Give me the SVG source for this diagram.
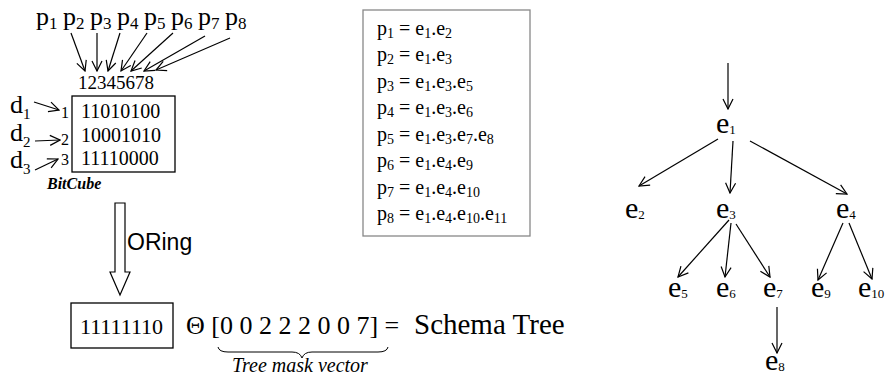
<svg xmlns="http://www.w3.org/2000/svg" width="889" height="380" viewBox="0 0 889 380">
<defs>
<marker id="ah" markerWidth="12" markerHeight="12" refX="11" refY="6" orient="auto" markerUnits="userSpaceOnUse">
<polyline points="1,1 11,6 1,11" fill="none" stroke="#000" stroke-width="1.2"/>
</marker>
</defs>
<style>
.t{font-family:"Liberation Serif","Times New Roman",serif;fill:#000}
.s{font-family:"Liberation Sans",Arial,sans-serif;fill:#000}
.ln{stroke:#000;stroke-width:1.2;fill:none;marker-end:url(#ah)}
.bx{fill:#fff;stroke:#000;stroke-width:1.3}
</style>
<rect width="889" height="380" fill="#fff"/>

<g id="p-labels">
<text class="t" font-size="26" x="36" y="25">p<tspan font-size="17" dy="4">1</tspan></text>
<text class="t" font-size="26" x="63" y="25">p<tspan font-size="17" dy="4">2</tspan></text>
<text class="t" font-size="26" x="90" y="25">p<tspan font-size="17" dy="4">3</tspan></text>
<text class="t" font-size="26" x="117" y="25">p<tspan font-size="17" dy="4">4</tspan></text>
<text class="t" font-size="26" x="144" y="25">p<tspan font-size="17" dy="4">5</tspan></text>
<text class="t" font-size="26" x="171" y="25">p<tspan font-size="17" dy="4">6</tspan></text>
<text class="t" font-size="26" x="198" y="25">p<tspan font-size="17" dy="4">7</tspan></text>
<text class="t" font-size="26" x="225" y="25">p<tspan font-size="17" dy="4">8</tspan></text>
</g>

<g id="bitcube">
<text class="t" x="78" y="89" font-size="19">12345678</text>
<rect class="bx" x="72" y="96" width="103" height="76"/>
<text class="t" x="81" y="118" font-size="20">11010100</text>
<text class="t" x="81" y="142" font-size="20">10001010</text>
<text class="t" x="81" y="165" font-size="20">11110000</text>
<text class="t" x="61" y="118" font-size="16">1</text>
<text class="t" x="61" y="145" font-size="16">2</text>
<text class="t" x="61" y="165" font-size="16">3</text>
<text class="t" x="10" y="113" font-size="26">d<tspan font-size="15" dy="6">1</tspan></text>
<text class="t" x="10" y="141" font-size="26">d<tspan font-size="15" dy="6">2</tspan></text>
<text class="t" x="10" y="168" font-size="26">d<tspan font-size="15" dy="6">3</tspan></text>
<text class="t" x="47" y="189" font-size="16" font-weight="bold" font-style="italic">BitCube</text>
</g>

<g id="oring">
<polygon points="115,203 125,203 125,272 130,272 120,295 110,272 115,272" fill="#fff" stroke="#000" stroke-width="1.2"/>
<text class="s" x="127" y="250" font-size="23">ORing</text>
</g>

<g id="result">
<rect class="bx" x="71" y="303" width="102" height="45"/>
<text class="t" x="80" y="334" font-size="22">11111110</text>
<text class="t" x="186" y="334" font-size="26">Θ [0 0 2 2 2 0 0 7] =</text>
<text class="t" x="414" y="334" font-size="29">Schema Tree</text>
<path d="M218,347 Q219,352 228,352 L292,352 Q300,352 302,358 Q304,352 312,352 L378,352 Q387,352 388,347" fill="none" stroke="#000" stroke-width="1"/>
<text class="t" x="232" y="372" font-size="20" font-style="italic">Tree mask vector</text>
</g>

<g id="paths-box">
<rect x="363" y="10" width="167" height="226" fill="#fff" stroke="#888" stroke-width="1.3"/>
<text class="t" font-size="20" x="377" y="35">p<tspan font-size="14" dy="3">1</tspan><tspan dy="-3"> = e</tspan><tspan font-size="14" dy="3">1</tspan><tspan dy="-3">.e</tspan><tspan font-size="14" dy="3">2</tspan></text>
<text class="t" font-size="20" x="377" y="61">p<tspan font-size="14" dy="3">2</tspan><tspan dy="-3"> = e</tspan><tspan font-size="14" dy="3">1</tspan><tspan dy="-3">.e</tspan><tspan font-size="14" dy="3">3</tspan></text>
<text class="t" font-size="20" x="377" y="88">p<tspan font-size="14" dy="3">3</tspan><tspan dy="-3"> = e</tspan><tspan font-size="14" dy="3">1</tspan><tspan dy="-3">.e</tspan><tspan font-size="14" dy="3">3</tspan><tspan dy="-3">.e</tspan><tspan font-size="14" dy="3">5</tspan></text>
<text class="t" font-size="20" x="377" y="114">p<tspan font-size="14" dy="3">4</tspan><tspan dy="-3"> = e</tspan><tspan font-size="14" dy="3">1</tspan><tspan dy="-3">.e</tspan><tspan font-size="14" dy="3">3</tspan><tspan dy="-3">.e</tspan><tspan font-size="14" dy="3">6</tspan></text>
<text class="t" font-size="20" x="377" y="141">p<tspan font-size="14" dy="3">5</tspan><tspan dy="-3"> = e</tspan><tspan font-size="14" dy="3">1</tspan><tspan dy="-3">.e</tspan><tspan font-size="14" dy="3">3</tspan><tspan dy="-3">.e</tspan><tspan font-size="14" dy="3">7</tspan><tspan dy="-3">.e</tspan><tspan font-size="14" dy="3">8</tspan></text>
<text class="t" font-size="20" x="377" y="167">p<tspan font-size="14" dy="3">6</tspan><tspan dy="-3"> = e</tspan><tspan font-size="14" dy="3">1</tspan><tspan dy="-3">.e</tspan><tspan font-size="14" dy="3">4</tspan><tspan dy="-3">.e</tspan><tspan font-size="14" dy="3">9</tspan></text>
<text class="t" font-size="20" x="377" y="194">p<tspan font-size="14" dy="3">7</tspan><tspan dy="-3"> = e</tspan><tspan font-size="14" dy="3">1</tspan><tspan dy="-3">.e</tspan><tspan font-size="14" dy="3">4</tspan><tspan dy="-3">.e</tspan><tspan font-size="14" dy="3">10</tspan></text>
<text class="t" font-size="20" x="377" y="220">p<tspan font-size="14" dy="3">8</tspan><tspan dy="-3"> = e</tspan><tspan font-size="14" dy="3">1</tspan><tspan dy="-3">.e</tspan><tspan font-size="14" dy="3">4</tspan><tspan dy="-3">.e</tspan><tspan font-size="14" dy="3">10</tspan><tspan dy="-3">.e</tspan><tspan font-size="14" dy="3">11</tspan></text>
</g>

<g id="e1"><text class="t" font-size="30" x="716" y="133">e<tspan font-size="13" dy="1">1</tspan></text></g>
<g id="e2"><text class="t" font-size="30" x="625" y="218">e<tspan font-size="13" dy="1">2</tspan></text></g>
<g id="e3"><text class="t" font-size="30" x="716" y="218">e<tspan font-size="13" dy="1">3</tspan></text></g>
<g id="e4"><text class="t" font-size="30" x="836" y="218">e<tspan font-size="13" dy="1">4</tspan></text></g>
<g id="e5"><text class="t" font-size="30" x="668" y="297">e<tspan font-size="13" dy="1">5</tspan></text></g>
<g id="e6"><text class="t" font-size="30" x="716" y="297">e<tspan font-size="13" dy="1">6</tspan></text></g>
<g id="e7"><text class="t" font-size="30" x="763" y="297">e<tspan font-size="13" dy="1">7</tspan></text></g>
<g id="e9"><text class="t" font-size="30" x="811" y="297">e<tspan font-size="13" dy="1">9</tspan></text></g>
<g id="e10"><text class="t" font-size="30" x="858" y="297">e<tspan font-size="13" dy="1">10</tspan></text></g>
<g id="e8"><text class="t" font-size="30" x="765" y="370">e<tspan font-size="13" dy="1">8</tspan></text></g>

<g id="connectors">
<line class="ln" x1="71" y1="33" x2="85" y2="71"/>
<line class="ln" x1="97" y1="33" x2="97" y2="71"/>
<line class="ln" x1="120" y1="33" x2="108" y2="71"/>
<line class="ln" x1="147" y1="33" x2="121" y2="71"/>
<line class="ln" x1="173" y1="33" x2="131" y2="71"/>
<line class="ln" x1="205" y1="36" x2="144" y2="71"/>
<line class="ln" x1="230" y1="38" x2="156" y2="70"/>
<line class="ln" x1="34" y1="102" x2="59" y2="110"/>
<line class="ln" x1="35" y1="141" x2="60" y2="140"/>
<line class="ln" x1="35" y1="170" x2="58" y2="159"/>
<line class="ln" x1="728" y1="63" x2="728" y2="109"/>
<line class="ln" x1="718" y1="139" x2="639" y2="186"/>
<line class="ln" x1="733" y1="141" x2="730" y2="193"/>
<line class="ln" x1="750" y1="141" x2="847" y2="194"/>
<line class="ln" x1="729" y1="220" x2="678" y2="277"/>
<line class="ln" x1="731" y1="223" x2="725" y2="277"/>
<line class="ln" x1="736" y1="224" x2="770" y2="277"/>
<line class="ln" x1="843" y1="223" x2="818" y2="280"/>
<line class="ln" x1="849" y1="223" x2="872" y2="279"/>
<line class="ln" x1="777" y1="307" x2="777" y2="353"/>
</g>
</svg>
